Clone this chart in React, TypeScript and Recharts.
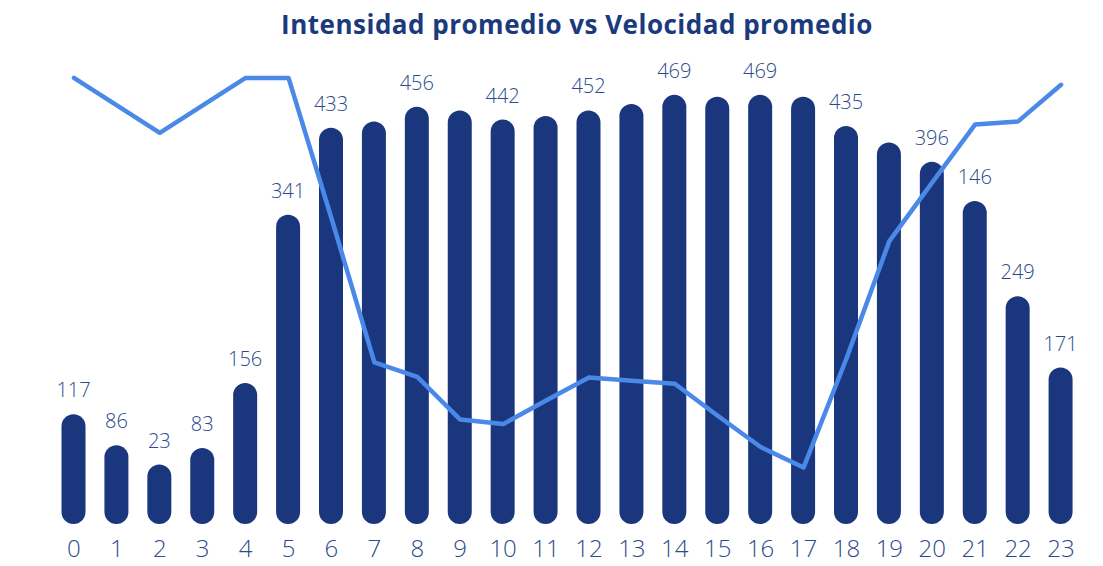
import React from 'react';
import { ComposedChart, Bar, Line, XAxis, YAxis, LabelList } from 'recharts';

const hours = ['0','1','2','3','4','5','6','7','8','9','10','11','12','13','14','15','16','17','18','19','20','21','22','23'];
const intensidad = [120, 86, 65, 83, 154, 338, 433, 440, 456, 452, 442, 446, 452, 459, 469, 467, 469, 467, 435, 417, 396, 353, 249, 171];
const intensidadLabels = ['117','86','23','83','156','341','433',null,'456',null,'442',null,'452',null,'469',null,'469',null,'435',null,'396','146','249','171'];
const velocidad = [78.5, 74.9, 71.3, 74.9, 78.5, 78.5, 60.1, 41.2, 39.3, 33.7, 33.1, 36.2, 39.2, 38.8, 38.4, 34.2, 30.1, 27.4, 41.7, 57.1, 64.8, 72.4, 72.8, 77.6];

const data = hours.map((h, i) => ({
  hour: h,
  intensidad: intensidad[i],
  label: intensidadLabels[i],
  velocidad: velocidad[i],
}));

const BAR = '#1a377e';
const LINE = '#4a89e8';
const TEXT = '#2c4a8c';
const FONT = '"Open Sans", sans-serif';

const renderLabel = (props: any) => {
  const { x, y, width, value } = props;
  if (value === null || value === undefined) return null;
  return (
    <text x={Number(x) + Number(width) / 2} y={Number(y) - 17} textAnchor="middle" fill={TEXT}
      fontFamily={FONT} fontWeight={300} fontSize={20}>
      {value}
    </text>
  );
};

const renderTick = (props: any) => {
  const { x, y, payload } = props;
  return (
    <text x={x} y={Number(y) + 33} textAnchor="middle" fill={TEXT}
      fontFamily={FONT} fontWeight={300} fontSize={24}>
      {payload.value}
    </text>
  );
};

export default function App() {
  return (
    <div style={{ position: 'relative', width: 1087, height: 556, background: '#fff' }}>
      <div style={{
        position: 'absolute', left: 569, top: 3, transform: 'translateX(-50%)',
        whiteSpace: 'nowrap', fontFamily: FONT, fontWeight: 700, fontSize: 26, lineHeight: '26px',
        letterSpacing: 0.5, color: '#1b3a7d'
      }}>
        Intensidad promedio vs Velocidad promedio
      </div>
      <ComposedChart width={1087} height={556} data={data}
        margin={{ top: 58.5, right: 12.5, bottom: 0, left: 44.5 }}>
        <XAxis dataKey="hour" axisLine={false} tickLine={false} tickSize={0} tickMargin={0}
          height={40} interval={0} tick={renderTick} />
        <YAxis yAxisId="left" hide domain={[0, 500]} />
        <YAxis yAxisId="right" orientation="right" hide domain={[20, 80]} />
        <Bar yAxisId="left" dataKey="intensidad" fill={BAR} barSize={24}
          radius={[12, 12, 12, 12]} isAnimationActive={false}>
          <LabelList dataKey="label" content={renderLabel} />
        </Bar>
        <Line yAxisId="right" type="linear" dataKey="velocidad" stroke={LINE} strokeWidth={4.5}
          dot={false} activeDot={false} strokeLinecap="round" strokeLinejoin="round"
          isAnimationActive={false} />
      </ComposedChart>
    </div>
  );
}
